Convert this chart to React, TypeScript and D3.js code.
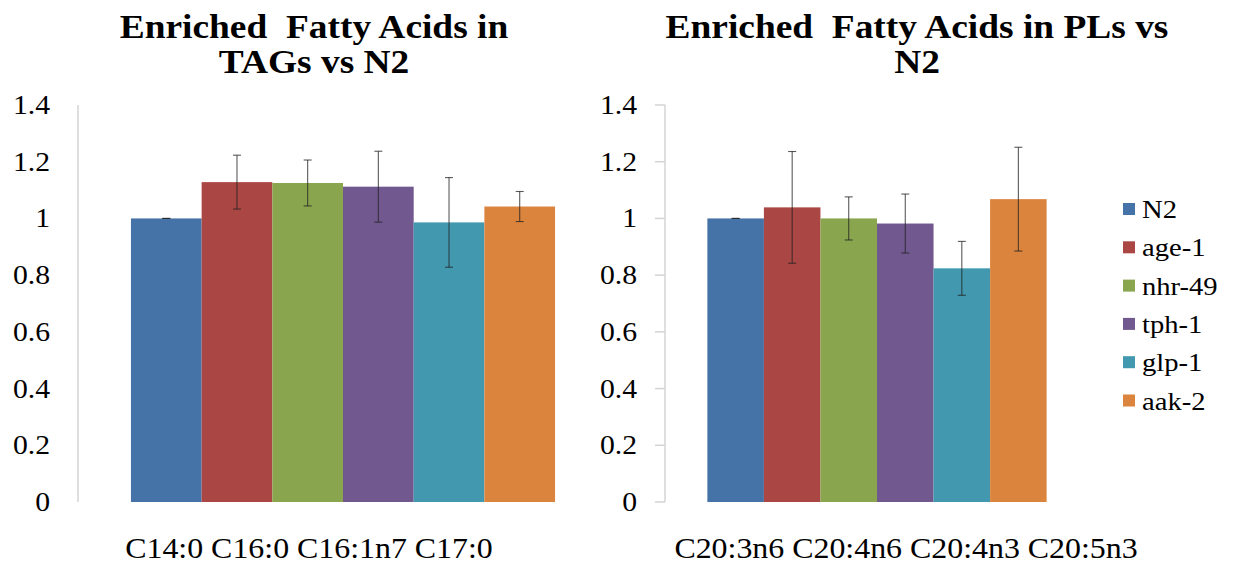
import React from 'react';
import * as d3 from 'd3';

// strains shown in both panels, in legend order
const strains = ['N2', 'age-1', 'nhr-49', 'tph-1', 'glp-1', 'aak-2'];
const strainColors = ['#4572A7', '#AA4643', '#89A54E', '#71588F', '#4198AF', '#DB843D'];

// TAG panel (ratio vs N2) and its error bars
const tagValues = [1.0, 1.128, 1.125, 1.112, 0.986, 1.042];
const tagErrors = [0, 0.095, 0.081, 0.125, 0.158, 0.053];
const tagCategory = ['C14:0 C16:0 C16:1n7 C17:0'];
const tagTitle = ['Enriched  Fatty Acids in', 'TAGs vs N2'];

// PL panel
const plValues = [1.0, 1.039, 1.0, 0.982, 0.824, 1.068];
const plErrors = [0, 0.197, 0.076, 0.104, 0.095, 0.183];
const plCategory = ['C20:3n6 C20:4n6 C20:4n3 C20:5n3'];
const plTitle = ['Enriched  Fatty Acids in PLs vs', 'N2'];

const yTicks = [0, 0.2, 0.4, 0.6, 0.8, 1, 1.2, 1.4];

const W = 1239, H = 570;
const serif = "'Liberation Serif', serif";
const SX = 1.1; // the original picture is a bit stretched sideways

const y = d3.scaleLinear().domain([0, 1.4]).range([502, 105]);

const Txt = ({ x, y, size, anchor = 'middle', bold = false, children }: any) => (
  <text transform={`translate(${x},${y}) scale(${SX},1)`} textAnchor={anchor}
    fontWeight={bold ? 'bold' : 'normal'} fill="#000"
    style={{ whiteSpace: 'pre', fontFamily: serif, fontSize: size }}>
    {children}
  </text>
);

interface PanelProps {
  left: number; right: number; values: number[]; errors: number[];
  category: string[]; title: string[]; titleX: number; labelX: number; tickMarks: boolean;
}

const Panel = ({ left, right, values, errors, category, title, titleX, labelX, tickMarks }: PanelProps) => {
  const x0 = d3.scaleBand().domain(category).range([left, right]).padding(0.111);
  const x1 = d3.scaleBand().domain(strains).range([0, x0.bandwidth()]);
  const gx = x0(category[0]) as number;
  return (
    <g>
      {title.map((t, i) => (
        <Txt key={i} x={titleX} y={38 + i * 35} size={34} bold>{t}</Txt>
      ))}
      <line x1={left} x2={left} y1={y(1.4)} y2={y(0)} stroke="#d4d4d4" strokeWidth={1.5} />
      {yTicks.map(t => (
        <g key={t}>
          {tickMarks && <line x1={left - 10} x2={left} y1={y(t)} y2={y(t)} stroke="#d4d4d4" strokeWidth={1.5} />}
          <Txt x={left - 28} y={y(t) + 9} size={27} anchor="end">{d3.format('~g')(t)}</Txt>
        </g>
      ))}
      {strains.map((s, i) => (
        <rect key={s} x={gx + (x1(s) as number)} width={x1.bandwidth()} y={y(values[i])}
          height={y(0) - y(values[i])} fill={strainColors[i]} />
      ))}
      {strains.map((s, i) => {
        const cx = gx + (x1(s) as number) + x1.bandwidth() / 2;
        const hi = y(values[i] + errors[i]), lo = y(values[i] - errors[i]);
        return (
          <g key={s} stroke="#222" strokeOpacity={0.75} strokeWidth={1.1}>
            <line x1={cx} x2={cx} y1={hi} y2={lo} />
            <line x1={cx - 4} x2={cx + 4} y1={hi} y2={hi} />
            <line x1={cx - 4} x2={cx + 4} y1={lo} y2={lo} />
          </g>
        );
      })}
      <Txt x={labelX} y={558} size={29}>{category[0]}</Txt>
    </g>
  );
};

export default function App() {
  return (
    <svg width={W} height={H} style={{ position: 'absolute', left: 0, top: 0, background: '#fff' }}>
      <Panel left={78} right={608} values={tagValues} errors={tagErrors} category={tagCategory}
        title={tagTitle} titleX={314} labelX={309} tickMarks={false} />
      <Panel left={665} right={1089} values={plValues} errors={plErrors} category={plCategory}
        title={plTitle} titleX={917} labelX={906} tickMarks={true} />
      {strains.map((s, i) => (
        <g key={s}>
          <rect x={1123} y={203 + i * 38.3} width={12} height={12} fill={strainColors[i]} />
          <Txt x={1142} y={218 + i * 38.3} size={26} anchor="start">{s}</Txt>
        </g>
      ))}
    </svg>
  );
}
